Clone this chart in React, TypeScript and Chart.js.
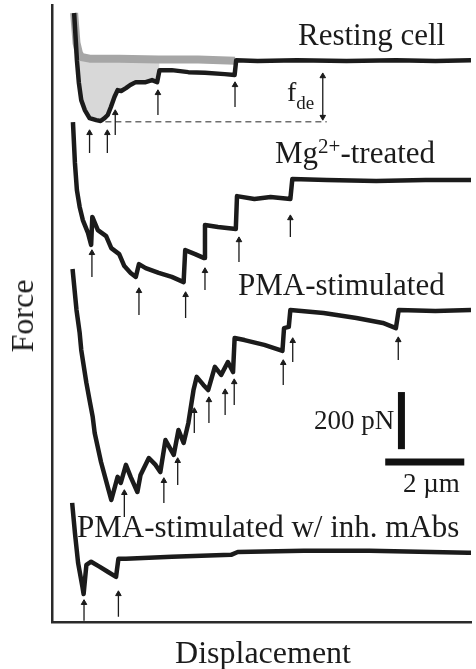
import React, { useEffect, useRef } from "react";
import { Chart, registerables } from "chart.js";

Chart.register(...registerables);

// Displacement in µm, force in pN (traces are offset vertically, as in the figure)
const restingTrace: [number, number][] = [
  [0.56, 2132], [0.59, 2062], [0.63, 1967], [0.68, 1887], [0.74, 1827], [0.83, 1792],
  [0.95, 1764], [1.12, 1757], [1.23, 1754], [1.33, 1764], [1.41, 1775], [1.49, 1803],
  [1.58, 1838], [1.66, 1862], [1.75, 1859], [1.87, 1869], [1.98, 1880], [2.12, 1890],
  [2.37, 1890], [2.53, 1897], [2.66, 1890], [2.72, 1932], [3.03, 1932], [3.45, 1925],
  [3.87, 1923], [4.37, 1918], [4.62, 1915], [4.66, 1967], [5.2, 1964], [6.2, 1967],
  [7.45, 1964], [8.7, 1967], [9.7, 1964], [10.6, 1967],
];
const restingReference: [number, number][] = [
  [0.56, 2132], [0.62, 2027], [0.68, 1992], [0.74, 1978], [0.95, 1972], [1.7, 1972],
  [2.7, 1969], [3.7, 1969], [4.63, 1965],
];
const mgTrace: [number, number][] = [
  [0.53, 1750], [0.58, 1607], [0.63, 1512], [0.7, 1453], [0.78, 1407], [0.91, 1362],
  [0.99, 1320], [1.02, 1418], [1.16, 1372], [1.37, 1351], [1.5, 1309], [1.7, 1288],
  [1.83, 1246], [1.99, 1222], [2.12, 1208], [2.2, 1253], [2.37, 1239], [2.7, 1222],
  [3.03, 1208], [3.33, 1190], [3.37, 1302], [3.62, 1288], [3.85, 1274], [3.87, 1390],
  [4.2, 1383], [4.65, 1376], [4.68, 1491], [5.12, 1481], [5.53, 1488], [6.03, 1481],
  [6.08, 1551], [6.95, 1547], [8.2, 1544], [9.45, 1547], [10.6, 1547],
];
const pmaTrace: [number, number][] = [
  [0.52, 1236], [0.62, 1092], [0.7, 1012], [0.74, 952], [0.87, 837], [0.95, 777],
  [1.03, 718], [1.08, 662], [1.24, 560], [1.41, 473], [1.5, 427], [1.66, 508],
  [1.74, 487], [1.87, 550], [1.99, 508], [2.16, 455], [2.24, 515], [2.45, 574],
  [2.62, 550], [2.74, 525], [2.87, 637], [3.08, 585], [3.2, 672], [3.33, 627],
  [3.45, 697], [3.58, 812], [3.66, 858], [3.83, 830], [3.95, 812], [4.12, 893],
  [4.28, 865], [4.45, 910], [4.58, 875], [4.62, 994], [4.87, 987], [5.37, 970],
  [5.83, 949], [5.87, 1029], [5.99, 1033], [6.03, 1092], [6.87, 1082], [7.7, 1064],
  [8.37, 1047], [8.7, 1029], [8.77, 1092], [9.7, 1089], [10.6, 1092],
];
const inhibitedTrace: [number, number][] = [
  [0.51, 417], [0.58, 312], [0.66, 207], [0.77, 123], [0.8, 98], [0.87, 200],
  [0.99, 211], [1.2, 194], [1.41, 176], [1.62, 158], [1.68, 221], [1.87, 221],
  [3.03, 228], [4.53, 235], [4.7, 245], [6.37, 249], [8.03, 249], [10.53, 242], [10.6, 242],
];
// Rupture arrows: [displacement, tail force, tip force]
const restingArrows: [number, number, number][] = [
  [0.95, 1642, 1712], [1.4, 1642, 1712], [1.6, 1705, 1782], [2.68, 1775, 1852], [4.63, 1803, 1880],
];
const mgArrows: [number, number, number][] = [
  [1.01, 1208, 1292], [2.2, 1075, 1159], [3.38, 1064, 1145], [3.87, 1162, 1229],
  [4.73, 1260, 1337], [6.03, 1348, 1414],
];
const pmaArrows: [number, number, number][] = [
  [1.83, 368, 452], [2.83, 417, 494], [3.18, 480, 564], [3.6, 662, 739], [3.97, 697, 777],
  [4.38, 725, 805], [4.61, 760, 840], [5.85, 830, 907], [6.09, 910, 984], [8.76, 917, 987],
];
const inhibitedArrows: [number, number, number][] = [
  [0.81, 4, 67], [1.68, 18, 98],
];
// f_de marker: x, lower and upper force ; dashed reference line
const fdeArrow: [number, number, number] = [6.85, 1768, 1911];
const dashedLine: [number, number][] = [[1.35, 1751], [6.95, 1751]];
// Scale bars: 200 pN and 2 µm
const forceBar: [number, number][] = [[8.84, 605], [8.84, 805]];
const distBar: [number, number][] = [[8.43, 560], [10.43, 560]];

const X_MAX = 10.6;
const Y_MAX = 2160;
const INK = "#1b1b1b";
const FONT = '"Liberation Serif", "Times New Roman", serif';

const pts = (a: [number, number][]) => a.map(([x, y]) => ({ x, y }));
const arrowPts = (arr: [number, number, number][]) =>
  arr.flatMap(([x, tail, tip]) => [
    { x, y: tail, head: false },
    { x, y: tip, head: true },
    { x, y: null as any, head: false },
  ]);

const traceDs = (data: [number, number][]) => ({
  data: pts(data),
  borderColor: INK,
  borderWidth: 4.5,
  borderJoinStyle: "round",
  pointRadius: 0,
  tension: 0,
  fill: false,
  order: 1,
});

const arrowDs = (arr: [number, number, number][]) => ({
  data: arrowPts(arr),
  borderColor: INK,
  borderWidth: 1.3,
  spanGaps: false,
  tension: 0,
  fill: false,
  pointStyle: "triangle",
  pointBackgroundColor: INK,
  pointBorderColor: INK,
  pointBorderWidth: 1,
  pointRadius: (c: any) => (c.raw && c.raw.head ? 3.2 : 0),
  order: 0,
});

export default function App() {
  const ref = useRef<HTMLCanvasElement>(null);
  useEffect(() => {
    if (!ref.current) return;
    const chart = new Chart(ref.current, {
      type: "line",
      data: {
        datasets: [
          {
            data: pts(restingReference),
            borderColor: "#a6a6a6",
            borderWidth: 8,
            borderJoinStyle: "round",
            pointRadius: 0,
            tension: 0,
            fill: false,
            order: 5,
          },
          {
            data: pts(restingTrace.filter(([x]) => x >= 0.6 && x <= 2.72)),
            borderWidth: 0,
            borderColor: "rgba(0,0,0,0)",
            backgroundColor: "#d8d8d8",
            pointRadius: 0,
            tension: 0,
            fill: { target: 0 },
            order: 9,
          },
          traceDs(restingTrace),
          traceDs(mgTrace),
          traceDs(pmaTrace),
          traceDs(inhibitedTrace),
          arrowDs(restingArrows),
          arrowDs(mgArrows),
          arrowDs(pmaArrows),
          arrowDs(inhibitedArrows),
          {
            data: [
              { x: fdeArrow[0], y: fdeArrow[1] },
              { x: fdeArrow[0], y: fdeArrow[2] },
            ],
            borderColor: INK,
            borderWidth: 1.3,
            pointStyle: "triangle",
            pointRadius: 3.2,
            pointRotation: [180, 0],
            pointBackgroundColor: INK,
            pointBorderColor: INK,
            pointBorderWidth: 1,
            fill: false,
            order: 0,
          },
          {
            data: pts(dashedLine),
            borderColor: "#6e6e6e",
            borderWidth: 1.5,
            borderDash: [6, 4],
            pointRadius: 0,
            fill: false,
            order: 2,
          },
          {
            data: pts(forceBar),
            borderColor: "#111",
            borderWidth: 7,
            borderCapStyle: "butt",
            pointRadius: 0,
            fill: false,
            order: 0,
          },
          {
            data: pts(distBar),
            borderColor: "#111",
            borderWidth: 7,
            borderCapStyle: "butt",
            pointRadius: 0,
            fill: false,
            order: 0,
          },
        ] as any,
      },
      options: {
        responsive: false,
        animation: false,
        events: [],
        layout: { padding: { left: 52, top: 5, right: 0, bottom: 47 } },
        plugins: { legend: { display: false }, tooltip: { enabled: false } },
        scales: {
          x: {
            type: "linear",
            min: 0,
            max: X_MAX,
            grid: { display: false, drawTicks: false },
            ticks: { display: false },
            border: { display: true, color: "#2a2a2a", width: 2.5 },
          },
          y: {
            type: "linear",
            min: 0,
            max: Y_MAX,
            grid: { display: false, drawTicks: false },
            ticks: { display: false },
            border: { display: true, color: "#2a2a2a", width: 2.5 },
          },
        },
      },
    } as any);
    return () => chart.destroy();
  }, []);

  const lbl = (left: number, top: number, size: number): React.CSSProperties => ({
    position: "absolute",
    left,
    top,
    fontFamily: FONT,
    fontSize: size,
    lineHeight: 1,
    whiteSpace: "nowrap",
    color: INK,
  });

  return (
    <div style={{ position: "absolute", left: 0, top: 0, width: 476, height: 669, background: "#fff", overflow: "hidden" }}>
      <canvas ref={ref} width={476} height={669} style={{ position: "absolute", left: 0, top: 0, width: 476, height: 669 }} />
      <div style={lbl(298, 19, 31)}>Resting cell</div>
      <div style={lbl(287, 78, 28)}>
        f<span style={{ fontSize: 19, position: "relative", top: 8 }}>de</span>
      </div>
      <div style={lbl(275, 137, 31)}>
        Mg<span style={{ fontSize: 21, position: "relative", top: -10 }}>2+</span>-treated
      </div>
      <div style={lbl(238, 269, 31)}>PMA-stimulated</div>
      <div style={lbl(77, 511, 31)}>PMA-stimulated w/ inh. mAbs</div>
      <div style={lbl(314, 407, 27)}>200 pN</div>
      <div style={lbl(403, 470, 27)}>2 µm</div>
      <div
        style={{
          ...lbl(22, 316, 32),
          transform: "translate(-50%, -50%) rotate(-90deg)",
        }}
      >
        Force
      </div>
      <div style={{ ...lbl(263, 636, 32), transform: "translateX(-50%)" }}>Displacement</div>
    </div>
  );
}
